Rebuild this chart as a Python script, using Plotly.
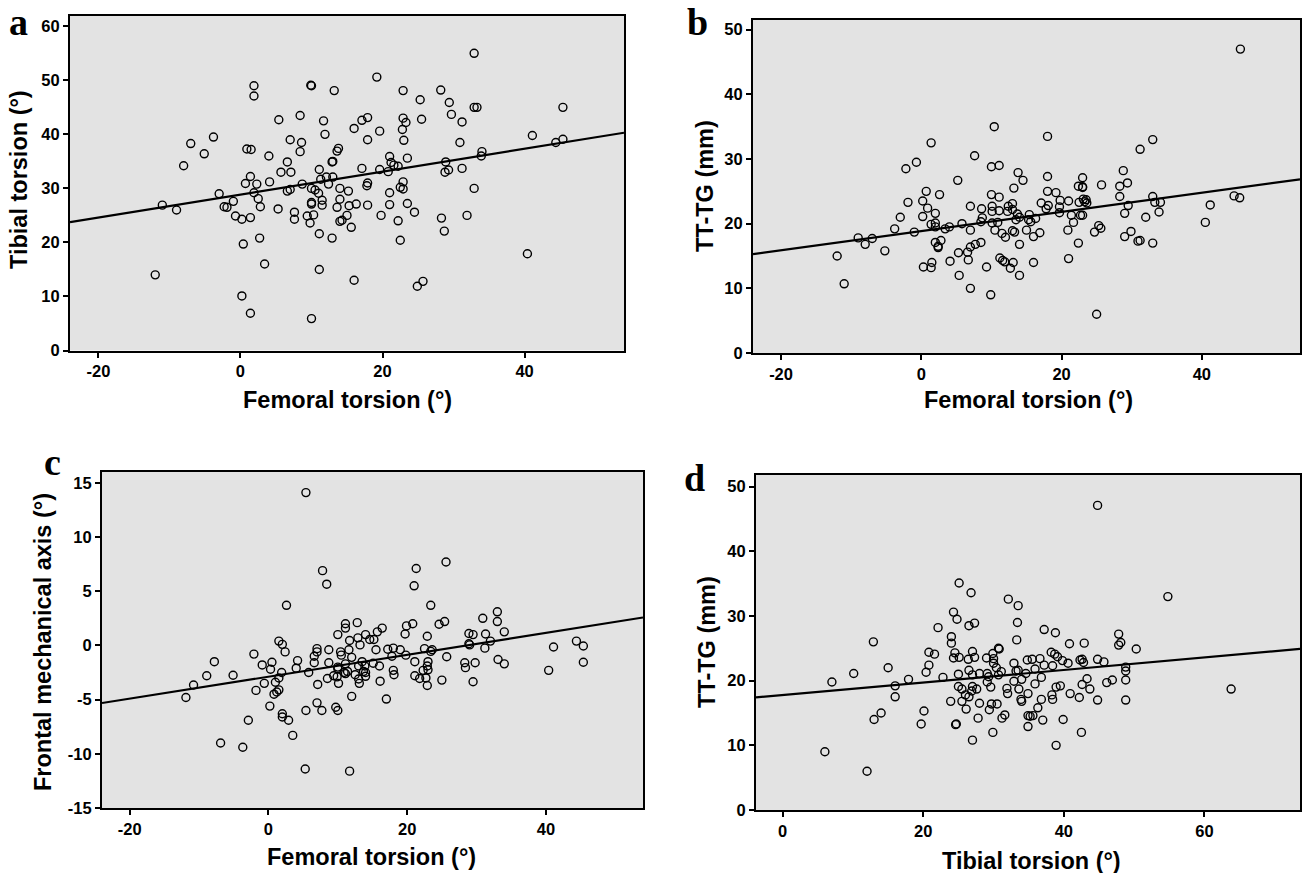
import numpy as np
import plotly.graph_objects as go

# ---------------- data ----------------
# Panel a: femoral torsion vs tibial torsion
a_femoral = [-12.0, -11.0, -9.0, -8.0, -7.0, -5.1, -3.8, -3.0, -2.3, -1.9, -1.0, -0.7, 0.2, 0.2, 0.4, 0.7, 0.9, 1.5, 1.4, 1.4,
             1.4, 1.9, 1.9, 1.9, 2.3, 2.5, 2.7, 2.8, 3.4, 4.0, 4.1, 5.3, 5.4, 5.7, 6.6, 6.6, 7.0, 7.0, 7.1, 7.6,
             7.6, 8.4, 8.4, 8.6, 8.7, 9.4, 9.8, 10.0, 9.9, 10.0, 10.0, 10.0, 10.0, 10.3, 10.5, 11.0, 11.1, 11.1, 11.1, 11.3,
             11.5, 11.5, 11.7, 11.9, 12.1, 12.4, 12.9, 13.0, 12.9, 13.0, 13.2, 13.6, 13.6, 13.8, 14.0, 14.0, 14.0, 14.3, 15.0, 15.2,
             15.3, 15.6, 16.0, 16.0, 16.3, 17.1, 17.1, 17.9, 17.9, 17.9, 17.8, 17.9, 19.2, 19.6, 19.6, 19.8, 20.8, 21.0, 21.0, 21.0,
             21.2, 21.6, 22.2, 22.2, 22.5, 22.5, 22.8, 22.9, 22.9, 22.9, 23.0, 22.9, 23.3, 23.5, 23.5, 24.5, 24.9, 25.3, 25.5, 25.7,
             28.2, 28.3, 28.7, 28.8, 28.9, 29.3, 29.4, 29.7, 30.9, 31.2, 31.2, 31.9, 32.9, 32.9, 32.9, 33.3, 33.9, 34.0, 40.4, 41.1,
             44.4, 45.4, 45.4]
a_tibial = [14.0, 26.9, 26.0, 34.2, 38.3, 36.4, 39.5, 29.0, 26.6, 26.5, 27.6, 24.9, 24.3, 10.1, 19.7, 30.9, 37.3, 37.2, 32.2, 24.6,
            6.9, 49.0, 47.1, 29.2, 30.8, 28.1, 20.8, 26.6, 16.0, 36.0, 31.2, 26.2, 42.7, 33.0, 34.9, 29.5, 29.8, 39.0, 33.0, 25.6,
            24.3, 43.5, 36.8, 38.5, 30.8, 24.9, 23.6, 49.0, 49.1, 30.0, 27.4, 27.1, 5.9, 25.1, 29.7, 29.1, 33.5, 21.6, 15.0, 31.7,
            27.8, 26.9, 42.5, 40.0, 32.1, 30.8, 34.9, 35.0, 20.8, 32.1, 48.1, 26.5, 36.9, 37.4, 30.0, 28.0, 23.9, 24.1, 25.0, 29.5,
            26.8, 22.8, 41.1, 13.0, 27.1, 42.6, 33.7, 43.1, 39.0, 31.0, 30.5, 26.9, 50.6, 40.6, 33.5, 25.0, 33.1, 35.9, 29.2, 27.0,
            34.8, 34.3, 34.1, 24.0, 30.2, 20.4, 40.9, 48.1, 43.0, 31.2, 38.9, 29.9, 42.2, 27.2, 35.6, 25.6, 11.9, 46.4, 42.8, 12.8,
            48.2, 24.5, 22.1, 33.0, 34.9, 33.4, 45.9, 43.7, 38.5, 42.3, 33.7, 25.0, 55.0, 30.0, 45.0, 45.0, 36.0, 36.8, 17.9, 39.8,
            38.5, 45.0, 39.1]

# Panel b: femoral torsion vs TT-TG
b_femoral = [-12.0, -11.0, -9.0, -8.0, -7.0, -5.2, -3.8, -3.0, -2.2, -1.9, -1.0, -0.7, 0.2, 0.2, 0.3, 0.7, 0.9, 1.4, 1.4, 1.4,
             1.5, 2.0, 2.0, 2.0, 2.0, 2.4, 2.4, 2.6, 2.8, 3.4, 4.0, 4.1, 5.2, 5.3, 5.4, 5.8, 6.6, 6.7, 7.0, 7.0,
             7.0, 7.0, 7.6, 7.7, 8.5, 8.5, 8.6, 8.7, 9.3, 9.9, 10.0, 10.0, 10.1, 10.1, 10.1, 10.4, 10.5, 10.9, 11.1, 11.1,
             11.1, 11.2, 11.5, 11.6, 11.9, 12.0, 12.3, 12.4, 12.7, 13.0, 13.0, 13.0, 13.1, 13.2, 13.3, 13.5, 13.7, 13.8, 14.0, 14.0,
             14.0, 14.5, 15.0, 15.3, 15.4, 15.6, 16.0, 16.0, 16.3, 16.9, 17.1, 17.8, 18.0, 18.0, 18.0, 18.1, 19.2, 19.7, 19.8, 19.7,
             20.9, 21.0, 21.0, 21.4, 21.7, 22.4, 22.4, 22.5, 22.7, 23.0, 23.0, 23.0, 23.0, 23.1, 23.3, 23.5, 23.6, 24.7, 25.0, 25.3,
             25.6, 25.7, 28.3, 28.3, 28.8, 29.0, 29.0, 29.4, 29.5, 29.9, 30.9, 31.2, 31.2, 32.0, 33.0, 33.0, 33.0, 33.3, 33.9, 34.1,
             40.5, 41.2, 44.6, 45.4, 45.5]
b_ttg = [15.0, 10.7, 17.8, 16.8, 17.7, 15.8, 19.2, 21.0, 28.5, 23.3, 18.7, 29.5, 23.5, 21.1, 13.3, 25.0, 22.4, 32.5, 19.9, 13.2,
         14.0, 21.6, 20.1, 19.5, 17.1, 16.3, 16.5, 24.5, 17.4, 19.2, 19.5, 14.2, 26.7, 15.5, 12.0, 20.0, 15.6, 14.4, 19.0, 10.0,
         22.7, 16.4, 30.5, 16.8, 17.1, 20.3, 22.3, 20.9, 13.3, 9.0, 28.8, 24.5, 22.7, 21.9, 20.1, 35.0, 19.0, 20.2, 29.0, 24.1,
         22.0, 14.7, 18.5, 14.3, 14.1, 17.9, 21.9, 22.7, 13.1, 23.1, 22.2, 18.9, 14.0, 25.5, 18.7, 20.6, 21.5, 27.9, 21.0, 16.8,
         12.0, 26.7, 19.0, 20.6, 21.4, 20.3, 18.0, 14.0, 20.8, 18.6, 23.2, 22.3, 33.5, 27.3, 25.0, 22.8, 24.8, 22.6, 23.6, 21.7,
         19.0, 23.5, 14.6, 21.3, 20.2, 25.8, 17.0, 23.3, 21.3, 27.1, 25.7, 25.6, 21.3, 23.8, 23.4, 23.7, 23.2, 18.7, 6.0, 19.7,
         19.3, 26.0, 25.8, 24.2, 28.2, 21.6, 18.0, 26.3, 22.8, 18.8, 17.3, 17.4, 31.5, 21.0, 33.0, 24.2, 17.0, 23.3, 21.8, 23.3,
         20.2, 22.9, 24.3, 24.0, 47.0]

# Panel c: femoral torsion vs frontal mechanical axis
c_femoral = [-11.9, -10.8, -8.9, -7.8, -6.9, -5.1, -3.7, -2.9, -2.1, -1.8, -0.9, -0.6, 0.2, 0.3, 0.5, 0.8, 1.0, 1.2, 1.5, 1.5,
             1.5, 1.9, 2.0, 2.0, 2.0, 2.4, 2.6, 2.9, 3.5, 4.0, 4.2, 5.4, 5.4, 5.3, 5.8, 6.6, 6.6, 7.0, 7.0, 7.1,
             7.0, 7.7, 7.8, 8.4, 8.5, 8.7, 8.7, 9.4, 9.7, 9.9, 10.0, 10.0, 10.0, 10.1, 10.0, 10.4, 10.5, 10.9, 11.1, 11.1,
             11.1, 11.1, 11.4, 11.6, 11.7, 11.7, 12.0, 12.0, 12.5, 12.8, 12.9, 13.0, 13.0, 13.1, 13.2, 13.5, 13.7, 13.9, 14.0, 14.0,
             14.0, 14.6, 15.1, 15.2, 15.5, 15.7, 16.0, 16.1, 16.4, 17.0, 17.2, 17.8, 18.0, 18.0, 18.1, 19.0, 19.7, 19.8, 19.9, 20.8,
             21.0, 21.1, 21.1, 21.3, 21.8, 22.3, 22.5, 22.7, 22.9, 22.9, 22.9, 23.0, 23.0, 23.4, 23.4, 23.6, 24.6, 25.0, 25.4, 25.6,
             25.7, 28.3, 28.4, 28.9, 28.9, 29.0, 29.5, 29.5, 29.8, 30.9, 31.2, 31.3, 32.0, 33.0, 33.0, 33.1, 34.0, 34.0, 40.4, 41.1,
             44.4, 45.4, 45.4]
c_axis = [-4.8, -3.65, -2.8, -1.5, -9.0, -2.75, -9.4, -6.9, -0.8, -4.15, -1.8, -3.5, -5.6, -2.2, -1.55, -4.5, -3.4, -4.3, 0.4, -4.1,
          -3.0, -2.5, 0.1, -6.3, -6.6, -0.6, 3.7, -6.9, -8.3, -2.1, -1.4, 14.1, -6.0, -11.4, -2.5, -1.6, -1.0, -0.6, -0.3, -3.6,
          -5.3, -6.0, 6.9, 5.65, -3.05, -1.6, -0.4, -2.8, -5.7, -2.9, 1.0, -2.0, -2.15, -3.5, -6.0, -0.6, -0.9, -2.5, 2.0, 1.6,
          -1.7, -2.6, -2.4, -0.4, 0.45, -11.6, -1.1, -4.7, -2.7, 2.1, 0.7, -1.9, -3.1, -3.5, 0.05, -1.5, -2.4, -1.9, -2.5, 1.0,
          -2.85, 0.55, -1.65, 0.55, -0.4, 1.25, -1.9, -3.3, 1.6, -4.95, -0.35, -1.0, -0.25, -2.3, -2.7, -0.4, 1.05, -0.9, 1.8, 2.0,
          5.5, -1.5, -2.8, 7.1, -3.05, -2.3, -0.3, -3.0, 0.85, -1.9, -3.7, -1.5, -2.25, 3.7, -0.55, -0.4, 1.95, -3.2, 2.2, 7.7,
          -1.05, -1.6, -2.05, 0.15, 1.1, 0.05, 1.0, -3.35, -1.6, 2.5, -0.25, 1.05, 0.4, 3.1, 2.2, -1.3, -1.7, 1.25, -2.3, -0.15,
          0.4, -0.05, -1.55]

# Panel d: tibial torsion vs TT-TG
d_tibial = [6.0, 7.0, 10.1, 12.0, 12.9, 13.0, 14.0, 15.0, 16.0, 16.0, 17.9, 19.7, 20.1, 20.4, 20.8, 20.8, 21.6, 22.1, 22.8, 23.9,
            24.0, 24.0, 24.3, 24.3, 24.5, 24.6, 24.7, 24.8, 25.0, 25.0, 25.1, 25.1, 25.5, 25.5, 26.0, 26.1, 26.4, 26.5, 26.5, 26.5,
            26.8, 26.9, 27.0, 27.0, 27.0, 27.0, 27.3, 27.3, 27.6, 27.8, 28.0, 28.0, 29.0, 29.1, 29.1, 29.3, 29.4, 29.6, 29.7, 29.9,
            29.9, 30.0, 30.0, 30.4, 30.5, 30.7, 30.8, 30.7, 31.1, 31.2, 31.6, 31.9, 32.0, 32.1, 32.9, 32.9, 33.2, 33.3, 33.4, 33.5,
            33.5, 33.6, 33.9, 34.0, 34.0, 34.6, 34.8, 34.9, 34.9, 34.9, 35.2, 35.5, 35.6, 35.9, 35.9, 36.3, 36.6, 36.8, 36.8, 37.0,
            37.2, 37.2, 38.2, 38.3, 38.4, 38.4, 38.7, 38.8, 38.9, 38.9, 39.1, 39.5, 39.8, 39.9, 40.6, 40.8, 40.9, 42.2, 42.3, 42.5,
            42.6, 42.6, 42.8, 42.9, 43.3, 43.7, 44.8, 44.8, 44.8, 45.7, 46.1, 46.9, 47.8, 47.8, 48.1, 48.8, 48.8, 48.8, 48.8, 50.3,
            54.8, 63.8]
d_ttg = [9.0, 19.8, 21.1, 6.0, 26.0, 14.0, 15.0, 22.0, 19.2, 17.5, 20.2, 13.3, 15.3, 21.3, 24.4, 22.4, 24.1, 28.2, 20.5, 16.8,
         26.8, 25.8, 30.6, 23.5, 24.3, 13.2, 13.3, 29.5, 21.0, 19.1, 35.1, 23.6, 16.8, 18.7, 17.8, 15.6, 23.3, 17.5, 28.5, 21.6,
         33.6, 18.4, 24.5, 20.9, 19.1, 10.8, 28.9, 23.6, 18.7, 14.2, 21.1, 16.5, 23.5, 21.1, 19.8, 20.6, 15.5, 19.0, 16.4, 24.2,
         12.0, 23.4, 22.7, 22.0, 16.4, 25.0, 24.9, 20.9, 21.4, 14.2, 14.7, 18.8, 18.0, 32.6, 22.7, 19.9, 21.5, 26.3, 29.0, 31.6,
         21.6, 18.7, 17.1, 16.8, 20.2, 21.1, 23.2, 18.0, 14.6, 12.9, 14.5, 23.3, 14.6, 19.5, 21.8, 15.8, 23.4, 17.1, 20.5, 13.9,
         22.4, 27.9, 24.4, 17.8, 22.3, 17.1, 24.1, 27.4, 10.0, 19.0, 23.7, 19.2, 23.1, 14.0, 22.7, 25.7, 18.0, 17.4, 23.2, 12.0,
         23.3, 19.4, 22.8, 25.8, 20.3, 18.7, 47.1, 23.3, 17.0, 22.9, 19.7, 20.1, 27.2, 25.5, 25.9, 22.1, 21.5, 20.1, 17.0, 24.9,
         33.0, 18.7]

x_titles = ["Femoral torsion (°)", "Femoral torsion (°)", "Femoral torsion (°)", "Tibial torsion (°)"]
y_titles = ["Tibial torsion (°)", "TT-TG (mm)", "Frontal mechanical axis (°)", "TT-TG (mm)"]
panel_letters = ["a", "b", "c", "d"]

# tick values and their labels (hyphen-minus as in the reference)
x_ticks = [[-20, 0, 20, 40], [-20, 0, 20, 40], [-20, 0, 20, 40], [0, 20, 40, 60]]
x_tick_labels = [["-20", "0", "20", "40"], ["-20", "0", "20", "40"], ["-20", "0", "20", "40"], ["0", "20", "40", "60"]]
y_ticks = [[0, 10, 20, 30, 40, 50, 60], [0, 10, 20, 30, 40, 50], [-15, -10, -5, 0, 5, 10, 15], [0, 10, 20, 30, 40, 50]]
y_tick_labels = [["0", "10", "20", "30", "40", "50", "60"], ["0", "10", "20", "30", "40", "50"],
                 ["-15", "-10", "-5", "0", "5", "10", "15"], ["0", "10", "20", "30", "40", "50"]]

# ---------------- layout helpers ----------------
W, H = 1303, 873


def px_x(p):
    return p / W


def px_y(p):
    return 1 - p / H


# plot boxes in pixels: (left, right, top, bottom)
boxes = [(70, 624, 15.5, 350.5), (753, 1300, 20, 353), (102, 643, 472, 808), (756, 1300, 475, 810)]
x_ranges = [[-24, 54], [-24, 54], [-24, 54], [-3.8, 73.6]]
y_ranges = [[0, 62], [0, 51.5], [-15, 16], [0, 51.8]]

# title / label placement (pixels)
xt_pos = [(347, 400), (1028, 400), (372, 857), (1031, 861)]
yt_pos = [(19, 180), (705, 186), (43, 642), (707, 642)]
letter_pos = [(18, 22), (697, 22), (52, 462), (694, 478)]

data_sets = [(a_femoral, a_tibial), (b_femoral, b_ttg), (c_femoral, c_axis), (d_tibial, d_ttg)]

fig = go.Figure()
tick_font = dict(family="Liberation Sans, Arial, sans-serif", size=16.5, color="black", weight="bold")
title_font = dict(family="Liberation Sans, Arial, sans-serif", size=23.5, color="black", weight="bold")
letter_font = dict(family="Liberation Serif, Times New Roman, serif", size=38, color="black", weight="bold")

annotations = []
for i, (xs, ys) in enumerate(data_sets):
    n = "" if i == 0 else str(i + 1)
    xa, ya = "x" + n, "y" + n
    fig.add_trace(go.Scatter(
        x=xs, y=ys, mode="markers", xaxis=xa, yaxis=ya,
        marker=dict(symbol="circle-open", size=8, color="black", line=dict(width=1.4, color="black")),
        showlegend=False, cliponaxis=True,
    ))
    # least-squares fit line drawn across the full x range
    slope, intercept = np.polyfit(np.array(xs), np.array(ys), 1)
    lx = np.array(x_ranges[i], dtype=float)
    fig.add_trace(go.Scatter(
        x=lx, y=intercept + slope * lx, mode="lines", xaxis=xa, yaxis=ya,
        line=dict(color="black", width=2.2), showlegend=False, hoverinfo="skip",
    ))
    l, r, t, b = boxes[i]
    ax_common = dict(showline=True, mirror=True, linecolor="black", linewidth=2, ticks="outside", ticklen=5,
                     tickwidth=1.5, tickcolor="black", showgrid=False, zeroline=False, tickfont=tick_font,
                     automargin=False)
    fig.layout["xaxis" + n] = dict(domain=[px_x(l), px_x(r)], range=x_ranges[i], tickvals=x_ticks[i],
                                   ticktext=x_tick_labels[i], anchor=ya, **ax_common)
    fig.layout["yaxis" + n] = dict(domain=[px_y(b), px_y(t)], range=y_ranges[i], tickvals=y_ticks[i],
                                   ticktext=y_tick_labels[i], anchor=xa, **ax_common)
    annotations.append(dict(text=x_titles[i], x=px_x(xt_pos[i][0]), y=px_y(xt_pos[i][1]), xref="paper", yref="paper",
                            showarrow=False, font=title_font, xanchor="center", yanchor="middle"))
    annotations.append(dict(text=y_titles[i], x=px_x(yt_pos[i][0]), y=px_y(yt_pos[i][1]), xref="paper", yref="paper",
                            showarrow=False, font=title_font, xanchor="center", yanchor="middle", textangle=-90))
    annotations.append(dict(text=panel_letters[i], x=px_x(letter_pos[i][0]), y=px_y(letter_pos[i][1]), xref="paper",
                            yref="paper", showarrow=False, font=letter_font, xanchor="center", yanchor="middle"))

fig.update_layout(
    width=W, height=H, margin=dict(l=0, r=0, t=0, b=0),
    paper_bgcolor="white", plot_bgcolor="#e3e3e3",
    annotations=annotations,
)

fig.write_html("out.html", config={"displayModeBar": False},
               post_script="document.body.style.margin='0';")
